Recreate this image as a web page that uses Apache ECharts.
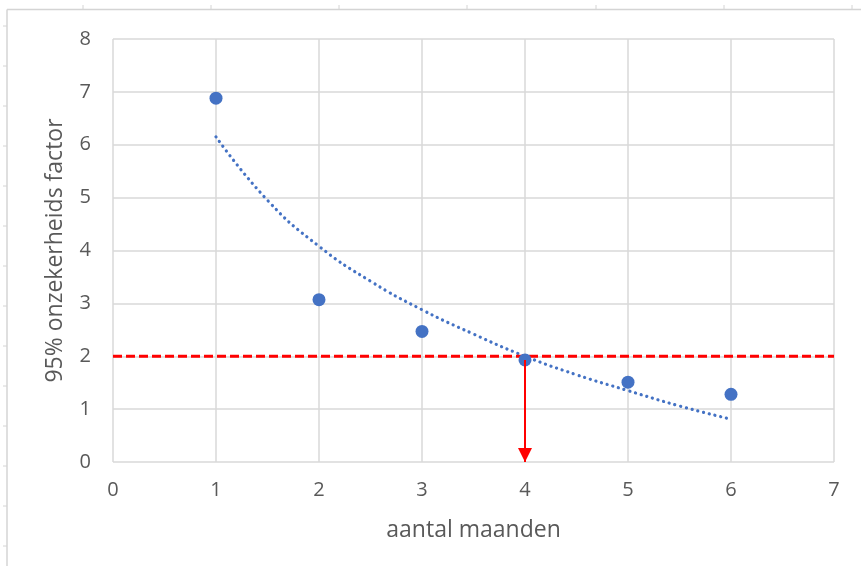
<!DOCTYPE html>
<html>
<head>
<meta charset="utf-8">
<script src="https://cdn.jsdelivr.net/npm/echarts@6/dist/echarts.min.js"></script>
<style>
html,body{margin:0;padding:0;background:#fff;}
#chart{width:861px;height:566px;}
</style>
</head>
<body>
<div id="chart"></div>
<script>
// Data
var months = [1, 2, 3, 4, 5, 6];
var factors = [6.88, 3.07, 2.47, 1.93, 1.51, 1.28];
// Trend line (dotted) values
var trendX = [1, 1.5, 2, 2.5, 3, 3.5, 4, 4.5, 5, 5.5, 6];
var trendY = [6.15, 4.95, 4.08, 3.42, 2.88, 2.42, 2.0, 1.65, 1.35, 1.06, 0.81];
// Threshold and arrow
var threshold = 2;
var arrowX = 4;
var arrowTop = 1.93;
var xTicks = [0, 1, 2, 3, 4, 5, 6, 7];
var yTicks = [0, 1, 2, 3, 4, 5, 6, 7, 8];

var chart = echarts.init(document.getElementById('chart'), null, {renderer: 'canvas'});

var scatterData = months.map(function (m, i) { return [m, factors[i]]; });
var trendData = trendX.map(function (x, i) { return [x, trendY[i]]; });

// decorative spreadsheet frame
var frame = [];
frame.push({type: 'line', shape: {x1: 7, y1: 9.5, x2: 861, y2: 9.5}, style: {stroke: '#d4d4d4', lineWidth: 1.5}, silent: true});
frame.push({type: 'line', shape: {x1: 7, y1: 9.5, x2: 7, y2: 566}, style: {stroke: '#d4d4d4', lineWidth: 1.5}, silent: true});
[83, 211, 339, 467, 596, 724, 852].forEach(function (x) {
  frame.push({type: 'line', shape: {x1: x, y1: 5, x2: x, y2: 9}, style: {stroke: '#d4d4d4', lineWidth: 1}, silent: true});
});
[26, 66, 106, 146, 186, 226, 266, 306, 346, 386, 426, 466, 506, 546].forEach(function (y) {
  frame.push({type: 'line', shape: {x1: 3, y1: y, x2: 7, y2: y}, style: {stroke: '#d4d4d4', lineWidth: 1}, silent: true});
});

var font = '"Open Sans", "Noto Sans", sans-serif';

chart.setOption({
  animation: false,
  backgroundColor: '#ffffff',
  graphic: frame,
  grid: {left: 113, right: 27, top: 39, bottom: 104, containLabel: false},
  xAxis: {
    type: 'value', min: 0, max: 7, interval: 1,
    name: 'aantal maanden', nameLocation: 'middle', nameGap: 57,
    nameTextStyle: {color: '#595959', fontSize: 23, fontFamily: font},
    axisLine: {show: false}, axisTick: {show: false},
    axisLabel: {color: '#595959', fontSize: 20, fontFamily: font, margin: 18},
    splitLine: {show: true, lineStyle: {color: '#d9d9d9', width: 1.5}}
  },
  yAxis: {
    type: 'value', min: 0, max: 8, interval: 1,
    name: '95% onzekerheids factor', nameLocation: 'middle', nameGap: 46, nameRotate: 90,
    nameTextStyle: {color: '#595959', fontSize: 23, fontFamily: font},
    axisLine: {show: false}, axisTick: {show: false},
    axisLabel: {color: '#595959', fontSize: 20, fontFamily: font, margin: 22},
    splitLine: {show: true, lineStyle: {color: '#d9d9d9', width: 1.5}}
  },
  series: [
    {
      type: 'line', data: trendData, smooth: true, showSymbol: false, symbol: 'none',
      lineStyle: {color: '#4472C4', width: 3.2, type: [0.1, 5.8], cap: 'round'},
      z: 2, silent: true
    },
    {
      type: 'line', data: [[0, threshold], [7, threshold]], showSymbol: false, symbol: 'none',
      lineStyle: {color: '#FF0000', width: 3, type: [9, 4]},
      z: 3, silent: true
    },
    {
      type: 'scatter', data: scatterData, symbolSize: 13,
      itemStyle: {color: '#4472C4', opacity: 1},
      z: 4
    },
    {
      type: 'line', data: [[arrowX, arrowTop], [arrowX, 0]], showSymbol: false, symbol: 'none',
      lineStyle: {width: 0, opacity: 0},
      z: 5, silent: true,
      markLine: {
        silent: true, animation: false,
        symbol: ['none', 'triangle'], symbolSize: [14, 14], symbolOffset: [0, [0, 7]],
        label: {show: false},
        lineStyle: {color: '#FF0000', width: 2, type: 'solid'},
        data: [[{coord: [arrowX, arrowTop]}, {coord: [arrowX, 0]}]]
      }
    }
  ]
});
</script>
</body>
</html>
